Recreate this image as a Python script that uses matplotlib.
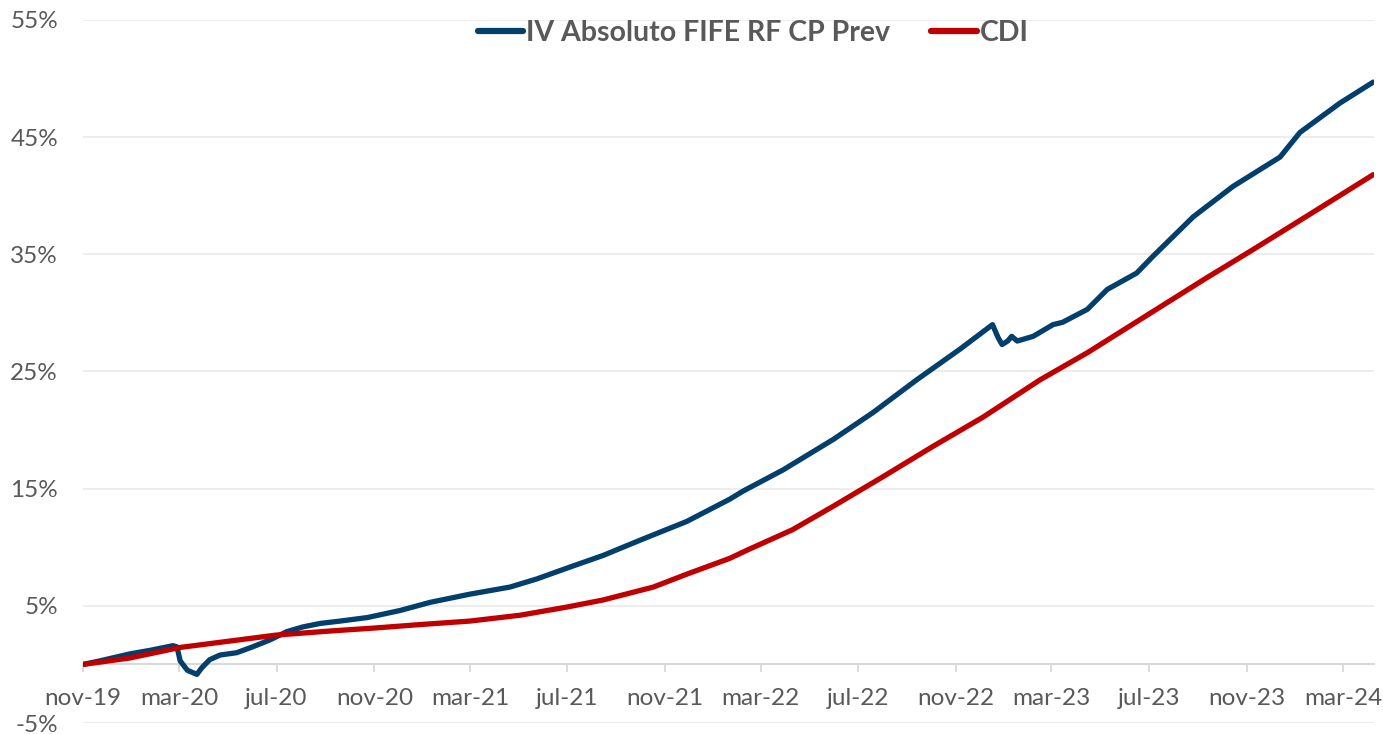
import matplotlib
matplotlib.use("Agg")
import matplotlib.pyplot as plt
import matplotlib.dates as mdates
from matplotlib.ticker import FixedLocator, FuncFormatter
import pandas as pd

# ---- data (cumulative return, %) ----
fund_dates = ["2019-11-01", "2019-11-22", "2019-12-30", "2020-01-24", "2020-02-22", "2020-02-27",
              "2020-03-02", "2020-03-11", "2020-03-23", "2020-03-29", "2020-04-08", "2020-04-21",
              "2020-05-12", "2020-06-01", "2020-06-23", "2020-07-14", "2020-08-03", "2020-08-25",
              "2020-09-19", "2020-10-23", "2020-12-03", "2021-01-10", "2021-03-01", "2021-04-20",
              "2021-05-24", "2021-07-04", "2021-08-15", "2021-10-04", "2021-11-28", "2022-01-21",
              "2022-02-07", "2022-03-29", "2022-05-31", "2022-07-20", "2022-09-13", "2022-11-06",
              "2022-12-17", "2022-12-24", "2022-12-29", "2023-01-05", "2023-01-10", "2023-01-17",
              "2023-02-06", "2023-03-03", "2023-03-15", "2023-04-15", "2023-05-10", "2023-06-16",
              "2023-07-06", "2023-08-26", "2023-10-15", "2023-12-13", "2024-01-07", "2024-02-26",
              "2024-04-08"]
fund_values = [0.0, 0.3, 0.9, 1.2, 1.6, 1.5,
               0.3, -0.5, -0.85, -0.3, 0.4, 0.8,
               1.0, 1.5, 2.1, 2.8, 3.2, 3.5,
               3.7, 4.0, 4.6, 5.3, 6.0, 6.6,
               7.3, 8.3, 9.3, 10.7, 12.2, 14.1,
               14.8, 16.6, 19.2, 21.5, 24.3, 26.9,
               29.0, 27.9, 27.3, 27.6, 28.0, 27.6,
               28.0, 29.0, 29.2, 30.3, 32.0, 33.4,
               34.8, 38.2, 40.8, 43.3, 45.4, 47.9,
               49.7]

cdi_dates = ["2019-11-01", "2019-12-30", "2020-03-02", "2020-05-04", "2020-06-30", "2020-09-06",
             "2020-10-31", "2020-12-28", "2021-03-01", "2021-05-03", "2021-07-01", "2021-08-15",
             "2021-10-17", "2021-11-28", "2022-01-21", "2022-02-15", "2022-04-10", "2022-05-31",
             "2022-08-01", "2022-10-03", "2022-12-05", "2023-02-15", "2023-04-15", "2023-07-06",
             "2023-09-12", "2023-11-09", "2024-01-19", "2024-04-08"]
cdi_values = [0.0, 0.55, 1.45, 2.0, 2.5, 2.85,
              3.1, 3.4, 3.7, 4.2, 4.9, 5.5,
              6.6, 7.7, 9.05, 9.85, 11.5, 13.5,
              16.0, 18.6, 21.1, 24.3, 26.6, 30.1,
              33.0, 35.4, 38.4, 41.8]

tick_dates = ["2019-11-01", "2020-03-01", "2020-07-01", "2020-11-01", "2021-03-01", "2021-07-01",
              "2021-11-01", "2022-03-01", "2022-07-01", "2022-11-01", "2023-03-01", "2023-07-01",
              "2023-11-01", "2024-03-01"]
tick_labels = ["nov-19", "mar-20", "jul-20", "nov-20", "mar-21", "jul-21", "nov-21", "mar-22",
               "jul-22", "nov-22", "mar-23", "jul-23", "nov-23", "mar-24"]
y_ticks = [-5, 5, 15, 25, 35, 45, 55]

series_names = ["IV Absoluto FIFE RF CP Prev", "CDI"]

# ---- figure ----
plt.rcParams['font.family'] = ['Lato', 'DejaVu Sans']
fig = plt.figure(figsize=(13.83, 7.34), dpi=100)
ax = fig.add_axes([83/1383, 1 - 723/734, (1374 - 83)/1383, (723 - 20)/734])

fx = pd.to_datetime(fund_dates)
cx = pd.to_datetime(cdi_dates)
ax.plot(fx, fund_values, color="#023F6C", lw=3.8, solid_capstyle="round",
        solid_joinstyle="round", label=series_names[0], zorder=3)
ax.plot(cx, cdi_values, color="#C00000", lw=3.8, solid_capstyle="round",
        solid_joinstyle="round", label=series_names[1], zorder=4)

ax.set_ylim(-5, 55)
ax.set_xlim(pd.Timestamp("2019-11-01"), pd.Timestamp("2024-04-09"))

ax.yaxis.set_major_locator(FixedLocator(y_ticks))
ax.yaxis.set_major_formatter(FuncFormatter(lambda v, p: f"{v:.0f}%"))
ax.grid(axis="y", color="#ECECEC", lw=1.3)
ax.set_axisbelow(True)

tx = pd.to_datetime(tick_dates)
ax.set_xticks(mdates.date2num(tx))
ax.set_xticklabels(tick_labels)

for s in ["top", "right", "left"]:
    ax.spines[s].set_visible(False)
ax.spines["bottom"].set_position(("data", 0))
ax.spines["bottom"].set_color("#D9D9D9")
ax.spines["bottom"].set_linewidth(1.5)

ax.tick_params(axis="x", direction="out", length=6, width=1.3, color="#D9D9D9",
               labelsize=17.5, labelcolor="#595959", pad=11)
ax.tick_params(axis="y", length=0, labelsize=17.5, labelcolor="#595959", pad=18)
for lab in ax.get_yticklabels():
    lab.set_horizontalalignment("right")

leg = fig.legend(loc="center", bbox_to_anchor=(753/1383, 1 - 33/734), ncol=2, frameon=False,
                 handlelength=1.6, handletextpad=0.1, columnspacing=1.45,
                 prop={"weight": "bold", "size": 20.5})
for t in leg.get_texts():
    t.set_color("#595959")
for l in leg.get_lines():
    l.set_linewidth(4.5)

fig.savefig("out.png", dpi=100, facecolor="white")
